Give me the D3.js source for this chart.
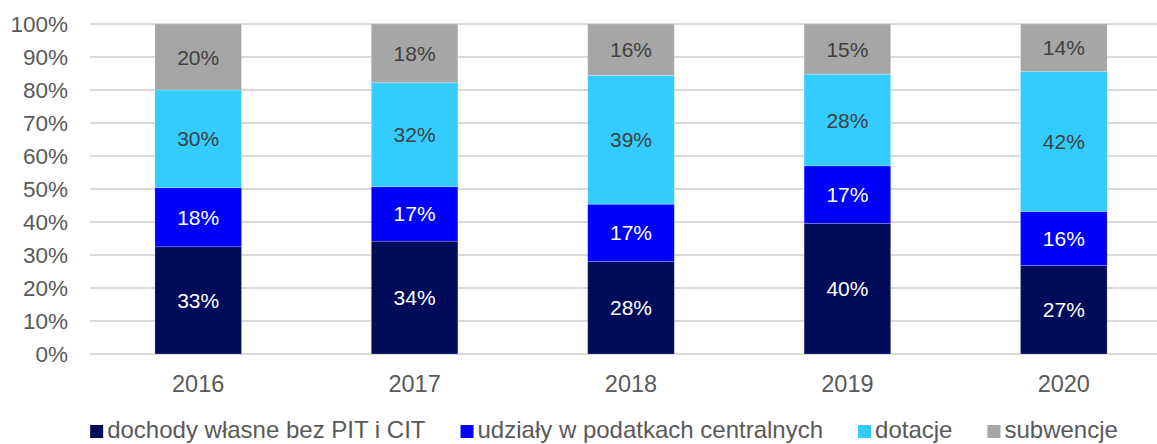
<!DOCTYPE html>
<html>
<head>
<meta charset="utf-8">
<script src="https://cdn.jsdelivr.net/npm/d3@7"></script>
<style>
  html, body { margin: 0; padding: 0; background: #fff; }
  svg { display: block; font-family: "Liberation Sans", Arial, sans-serif; }
</style>
</head>
<body>
<svg id="chart" width="1157" height="444"></svg>
<script>
// Categories (years)
const years = ["2016", "2017", "2018", "2019", "2020"];

// Series values, % share of revenue
const dochody   = [32.5, 34.2, 28.0, 39.6, 26.8];
const udzialy   = [17.9, 16.5, 17.4, 17.4, 16.4];
const dotacje   = [29.6, 31.5, 39.0, 27.8, 42.4];
const subwencje = [20.0, 17.8, 15.6, 15.2, 14.4];

const seriesNames = [
  "dochody własne bez PIT i CIT",
  "udziały w podatkach centralnych",
  "dotacje",
  "subwencje"
];
const seriesColors = ["#000B5A", "#0000FF", "#33CCFF", "#A6A6A6"];
const labelColors  = ["#FFFFFF", "#FFFFFF", "#404040", "#404040"];

const yTicks = [0, 10, 20, 30, 40, 50, 60, 70, 80, 90, 100];

const svg = d3.select("#chart");
const W = 1157;

const x = d3.scaleBand().domain(years).range([90, 1172]).paddingInner(0.6).paddingOuter(0.3);
const y = d3.scaleLinear().domain([0, 100]).range([354, 24]);

// Stack data
const table = years.map((yr, i) => ({
  year: yr, s0: dochody[i], s1: udzialy[i], s2: dotacje[i], s3: subwencje[i]
}));
const stack = d3.stack().keys(["s0", "s1", "s2", "s3"])(table);

// Gridlines
svg.append("g")
  .selectAll("line")
  .data(yTicks)
  .join("line")
  .attr("x1", 90).attr("x2", W)
  .attr("y1", d => y(d)).attr("y2", d => y(d))
  .attr("stroke", "#D9D9D9")
  .attr("stroke-width", 2);

// Y tick labels
svg.append("g")
  .selectAll("text")
  .data(yTicks)
  .join("text")
  .attr("x", 68)
  .attr("y", d => y(d))
  .attr("dy", "0.36em")
  .attr("text-anchor", "end")
  .attr("fill", "#595959")
  .attr("font-size", "22.5px")
  .text(d => d + "%");

// Bars
const layers = svg.append("g")
  .selectAll("g")
  .data(stack)
  .join("g");

layers.selectAll("rect")
  .data(d => d.map(p => ({ p, key: d.key, idx: d.index })))
  .join("rect")
  .attr("x", d => x(d.p.data.year))
  .attr("width", x.bandwidth())
  .attr("y", d => y(d.p[1]))
  .attr("height", d => y(d.p[0]) - y(d.p[1]))
  .attr("fill", d => seriesColors[d.idx])
  .attr("stroke", "rgba(255,255,255,0.25)")
  .attr("stroke-width", 0.8);

// Data labels
layers.selectAll("text")
  .data(d => d.map(p => ({ p, idx: d.index })))
  .join("text")
  .attr("x", d => x(d.p.data.year) + x.bandwidth() / 2)
  .attr("y", d => (y(d.p[0]) + y(d.p[1])) / 2)
  .attr("dy", "0.36em")
  .attr("text-anchor", "middle")
  .attr("fill", d => labelColors[d.idx])
  .attr("font-size", "21px")
  .text(d => Math.round(d.p[1] - d.p[0]) + "%");

// X axis labels
svg.append("g")
  .selectAll("text")
  .data(years)
  .join("text")
  .attr("x", d => x(d) + x.bandwidth() / 2)
  .attr("y", 392)
  .attr("text-anchor", "middle")
  .attr("fill", "#595959")
  .attr("font-size", "23.5px")
  .text(d => d);

// Legend
const legend = svg.append("g");
const items = legend.selectAll("g")
  .data(seriesNames)
  .join("g");
items.append("rect")
  .attr("x", 0).attr("y", 425)
  .attr("width", 13).attr("height", 13)
  .attr("fill", (d, i) => seriesColors[i]);
items.append("text")
  .attr("x", 17).attr("y", 438)
  .attr("fill", "#595959")
  .attr("font-size", "24px")
  .text(d => d);

let cx = 0;
const offsets = [];
items.each(function() {
  offsets.push(cx);
  const tw = d3.select(this).select("text").node().getComputedTextLength();
  cx += 17 + tw + 35;
});
const total = cx - 35;
const startX = 604 - total / 2;
items.attr("transform", (d, i) => `translate(${startX + offsets[i]},0)`);
</script>
</body>
</html>
